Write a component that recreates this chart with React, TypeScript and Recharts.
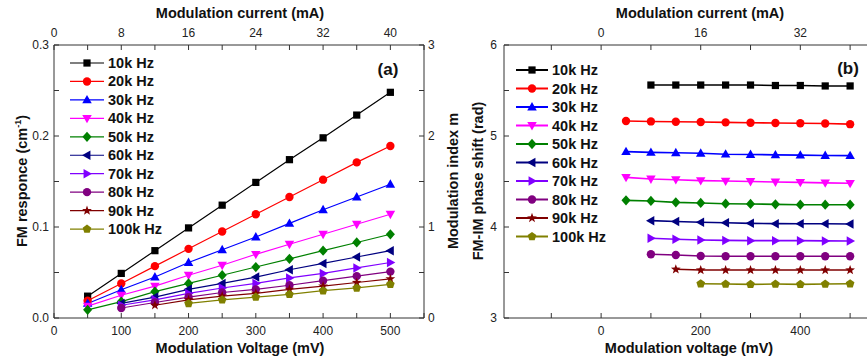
import { LineChart, Line, XAxis, YAxis, Legend } from 'recharts'

const voltages = [50, 100, 150, 200, 250, 300, 350, 400, 450, 500]
const labels = ['10k Hz', '20k Hz', '30k Hz', '40k Hz', '50k Hz', '60k Hz', '70k Hz', '80k Hz', '90k Hz', '100k Hz']
const colors = ['#000000', '#ff0000', '#0000ff', '#ff00ff', '#008000', '#000080', '#8000ff', '#800080', '#800000', '#808000']
const shapes = ['square', 'circle', 'up', 'down', 'diamond', 'left', 'right', 'circle', 'star', 'pentagon']
const mAperMV = 0.08 // 8 mA on the top axis per 100 mV on the bottom axis

// (a) FM response, cm^-1
const fm10 = [0.024, 0.049, 0.074, 0.099, 0.124, 0.149, 0.174, 0.198, 0.223, 0.248]
const fm20 = [0.019, 0.038, 0.057, 0.076, 0.095, 0.114, 0.133, 0.152, 0.171, 0.189]
const fm30 = [0.016, 0.031, 0.045, 0.061, 0.075, 0.089, 0.104, 0.119, 0.133, 0.147]
const fm40 = [0.013, 0.025, 0.035, 0.047, 0.058, 0.070, 0.081, 0.092, 0.103, 0.114]
const fm50 = [0.009, 0.018, 0.029, 0.038, 0.047, 0.056, 0.065, 0.074, 0.083, 0.092]
const fm60 = [null, 0.016, 0.023, 0.0315, 0.038, 0.045, 0.053, 0.060, 0.067, 0.074]
const fm70 = [null, 0.014, 0.020, 0.027, 0.033, 0.038, 0.044, 0.049, 0.055, 0.061]
const fm80 = [null, 0.011, 0.017, 0.023, 0.028, 0.0315, 0.036, 0.041, 0.046, 0.051]
const fm90 = [null, null, 0.014, 0.020, 0.024, 0.027, 0.0315, 0.035, 0.039, 0.043]
const fm100 = [null, null, null, 0.016, 0.020, 0.023, 0.026, 0.030, 0.033, 0.037]

// (b) FM-IM phase shift, rad
const ph10 = [null, 5.56, 5.56, 5.56, 5.56, 5.56, 5.555, 5.555, 5.55, 5.55]
const ph20 = [5.165, 5.16, 5.157, 5.154, 5.15, 5.146, 5.143, 5.14, 5.137, 5.13]
const ph30 = [4.828, 4.82, 4.816, 4.81, 4.8, 4.797, 4.793, 4.79, 4.786, 4.784]
const ph40 = [4.545, 4.527, 4.52, 4.51, 4.505, 4.5, 4.495, 4.49, 4.485, 4.48]
const ph50 = [4.293, 4.286, 4.271, 4.264, 4.256, 4.253, 4.249, 4.245, 4.245, 4.245]
const ph60 = [null, 4.07, 4.06, 4.052, 4.046, 4.04, 4.037, 4.035, 4.035, 4.033]
const ph70 = [null, 3.876, 3.865, 3.857, 3.853, 3.85, 3.85, 3.85, 3.847, 3.846]
const ph80 = [null, 3.7, 3.692, 3.681, 3.678, 3.678, 3.678, 3.678, 3.678, 3.678]
const ph90 = [null, null, 3.535, 3.527, 3.527, 3.527, 3.527, 3.527, 3.527, 3.527]
const ph100 = [null, null, null, 3.377, 3.373, 3.37, 3.373, 3.37, 3.373, 3.377]

const fmSeries = [fm10, fm20, fm30, fm40, fm50, fm60, fm70, fm80, fm90, fm100]
const phSeries = [ph10, ph20, ph30, ph40, ph50, ph60, ph70, ph80, ph90, ph100]

// axis ticks
const aVoltTicks = [0, 50, 100, 150, 200, 250, 300, 350, 400, 450, 500, 550]
const aCurTicks = [0, 4, 8, 12, 16, 20, 24, 28, 32, 36, 40, 44]
const aFmTicks = [0, 0.05, 0.1, 0.15, 0.2, 0.25, 0.3]
const aIdxTicks = [0, 0.5, 1, 1.5, 2, 2.5, 3]
const bVoltTicks = [-100, 0, 100, 200, 300, 400, 500]
const bCurTicks = [-8, 0, 8, 16, 24, 32, 40]
const bPhTicks = [3, 3.5, 4, 4.5, 5, 5.5, 6]

const toTable = (series: (number | null)[][]) =>
  voltages.map((v, i) => {
    const row: Record<string, number | null> = { v, c: v * mAperMV }
    series.forEach((s, k) => { row['s' + k] = s[i] })
    return row
  })

const tableA = toTable(fmSeries)
const tableB = toTable(phSeries)

const FONT = '"Liberation Sans", Arial, sans-serif'
const AX = '#333'
const tickStyle = { fontSize: 12, fill: '#222', fontFamily: FONT }

function Marker({ kind, cx, cy, color, s }: { kind: string; cx: number; cy: number; color: string; s: number }) {
  const pts = (arr: number[][]) => arr.map(p => `${cx + p[0] * s},${cy + p[1] * s}`).join(' ')
  switch (kind) {
    case 'square':
      return <rect x={cx - s * 0.95} y={cy - s * 0.95} width={s * 1.9} height={s * 1.9} fill={color} />
    case 'circle':
      return <circle cx={cx} cy={cy} r={s * 1.1} fill={color} />
    case 'up':
      return <polygon points={pts([[0, -1.3], [-1.25, 0.9], [1.25, 0.9]])} fill={color} />
    case 'down':
      return <polygon points={pts([[0, 1.3], [-1.25, -0.9], [1.25, -0.9]])} fill={color} />
    case 'left':
      return <polygon points={pts([[-1.3, 0], [0.9, -1.25], [0.9, 1.25]])} fill={color} />
    case 'right':
      return <polygon points={pts([[1.3, 0], [-0.9, -1.25], [-0.9, 1.25]])} fill={color} />
    case 'diamond':
      return <polygon points={pts([[0, -1.35], [1.2, 0], [0, 1.35], [-1.2, 0]])} fill={color} />
    case 'star': {
      const p: number[][] = []
      for (let i = 0; i < 10; i++) {
        const r = i % 2 === 0 ? 1.35 : 0.55
        const a = -Math.PI / 2 + (i * Math.PI) / 5
        p.push([r * Math.cos(a), r * Math.sin(a)])
      }
      return <polygon points={pts(p)} fill={color} />
    }
    case 'pentagon': {
      const p: number[][] = []
      for (let i = 0; i < 5; i++) {
        const a = -Math.PI / 2 + (i * 2 * Math.PI) / 5
        p.push([1.2 * Math.cos(a), 1.2 * Math.sin(a)])
      }
      return <polygon points={pts(p)} fill={color} />
    }
  }
  return null
}

function makeDot(k: number, s: number) {
  return (p: any) => {
    if (p.value == null || p.cy == null || isNaN(p.cy)) return <g key={p.index} />
    return (
      <g key={p.index}>
        <Marker kind={shapes[k]} cx={p.cx} cy={p.cy} color={colors[k]} s={s} />
      </g>
    )
  }
}

function LegendBox({ lineW, s, step, half }: { lineW: number; s: number; step: number; half: number }) {
  return (
    <svg width={120} height={step * 10 + 4} style={{ overflow: 'visible' }}>
      {labels.map((l, k) => {
        const y = 9 + k * step
        return (
          <g key={l}>
            <line x1={0} x2={half * 2} y1={y} y2={y} stroke={colors[k]} strokeWidth={lineW} />
            <Marker kind={shapes[k]} cx={half} cy={y} color={colors[k]} s={s} />
            <text x={half * 2 + 4} y={y + 5} fontSize={14.5} fontWeight="bold" fontFamily={FONT} fill="#111">{l}</text>
          </g>
        )
      })}
    </svg>
  )
}

const title: React.CSSProperties = {
  position: 'absolute', fontFamily: FONT, fontWeight: 'bold', fontSize: 14.5, color: '#111',
  whiteSpace: 'nowrap', transform: 'translate(-50%, -50%)', lineHeight: 1,
}
const vtitle: React.CSSProperties = { ...title, transform: 'translate(-50%, -50%) rotate(-90deg)' }

const minor = (labelled: number[], fmt?: (v: number) => string) => (v: number) =>
  labelled.includes(v) ? (fmt ? fmt(v) : String(v)) : ''

export default function App() {
  return (
    <div style={{ position: 'absolute', left: 0, top: 0, width: 867, height: 360, overflow: 'hidden', background: '#fff' }}>
      {/* panel (a) */}
      <div style={{ position: 'absolute', left: 0, top: 0 }}>
        <LineChart width={470} height={360} data={tableA} margin={{ top: 15, right: 0, bottom: 12, left: 0 }}>
          <XAxis xAxisId="v" dataKey="v" type="number" domain={[0, 550]} ticks={aVoltTicks} allowDataOverflow
            height={30} stroke={AX} tickSize={-5} tickMargin={13} tick={tickStyle}
            tickFormatter={minor([0, 100, 200, 300, 400, 500])} />
          <XAxis xAxisId="c" dataKey="c" orientation="top" type="number" domain={[0, 44]} ticks={aCurTicks} allowDataOverflow
            height={30} stroke={AX} tickSize={-5} tickMargin={13} tick={tickStyle}
            tickFormatter={minor([0, 8, 16, 24, 32, 40])} />
          <YAxis yAxisId="fm" type="number" domain={[0, 0.3]} ticks={aFmTicks} allowDataOverflow
            width={54} stroke={AX} tickSize={-5} tickMargin={10} tick={tickStyle}
            tickFormatter={minor([0, 0.1, 0.2, 0.3], v => v.toFixed(1))} />
          <YAxis yAxisId="m" orientation="right" type="number" domain={[0, 3]} ticks={aIdxTicks} allowDataOverflow
            width={46} stroke={AX} tickSize={-5} tickMargin={9} tick={tickStyle}
            tickFormatter={minor([0, 1, 2, 3])} />
          <Legend layout="vertical" align="center" verticalAlign="middle"
            wrapperStyle={{ left: 70, top: 54, width: 130, height: 200 }}
            content={() => <LegendBox lineW={1.2} s={3.8} step={18.45} half={17} />} />
          {fmSeries.map((_, k) => (
            <Line key={k} xAxisId="v" yAxisId="fm" dataKey={'s' + k} stroke={colors[k]} strokeWidth={1.2}
              dot={makeDot(k, 3.8)} activeDot={false} isAnimationActive={false} connectNulls={false} />
          ))}
        </LineChart>
        <div style={{ ...title, left: 240, top: 13 }}>Modulation current (mA)</div>
        <div style={{ ...title, left: 240, top: 348 }}>Modulation Voltage (mV)</div>
        <div style={{ ...vtitle, left: 22, top: 181 }}>
          FM responce (cm<sup style={{ fontSize: 9 }}>-1</sup>)
        </div>
        <div style={{ ...vtitle, left: 453, top: 181 }}>Modulation index m</div>
        <div style={{ ...title, left: 388, top: 69, fontSize: 17 }}>(a)</div>
      </div>

      {/* panel (b) */}
      <div style={{ position: 'absolute', left: 430, top: 0 }}>
        <LineChart width={460} height={360} data={tableB} margin={{ top: 15, right: 10, bottom: 12, left: 0 }}>
          <XAxis xAxisId="v" dataKey="v" type="number" domain={[-195, 560]} ticks={bVoltTicks} allowDataOverflow
            height={30} stroke={AX} tickSize={-5} tickMargin={13} tick={tickStyle}
            tickFormatter={minor([0, 200, 400])} />
          <XAxis xAxisId="c" dataKey="c" orientation="top" type="number" domain={[-15.6, 44.8]} ticks={bCurTicks} allowDataOverflow
            height={30} stroke={AX} tickSize={-5} tickMargin={13} tick={tickStyle}
            tickFormatter={minor([0, 16, 32])} />
          <YAxis yAxisId="ph" type="number" domain={[3, 6]} ticks={bPhTicks} allowDataOverflow
            width={74} stroke={AX} tickSize={-5} tickMargin={12} tick={tickStyle}
            tickFormatter={minor([3, 4, 5, 6])} />
          <Legend layout="vertical" align="center" verticalAlign="middle"
            wrapperStyle={{ left: 86, top: 61, width: 130, height: 200 }}
            content={() => <LegendBox lineW={2} s={3.8} step={18.5} half={16} />} />
          {phSeries.map((_, k) => (
            <Line key={k} xAxisId="v" yAxisId="ph" dataKey={'s' + k} stroke={colors[k]} strokeWidth={1.6}
              dot={makeDot(k, 3.8)} activeDot={false} isAnimationActive={false} connectNulls={false} />
          ))}
        </LineChart>
        <div style={{ ...title, left: 270, top: 13 }}>Modulation current (mA)</div>
        <div style={{ ...title, left: 259, top: 348 }}>Modulation voltage (mV)</div>
        <div style={{ ...vtitle, left: 48, top: 181 }}>FM-IM phase shift (rad)</div>
        <div style={{ ...title, left: 418, top: 68, fontSize: 17 }}>(b)</div>
      </div>
    </div>
  )
}
